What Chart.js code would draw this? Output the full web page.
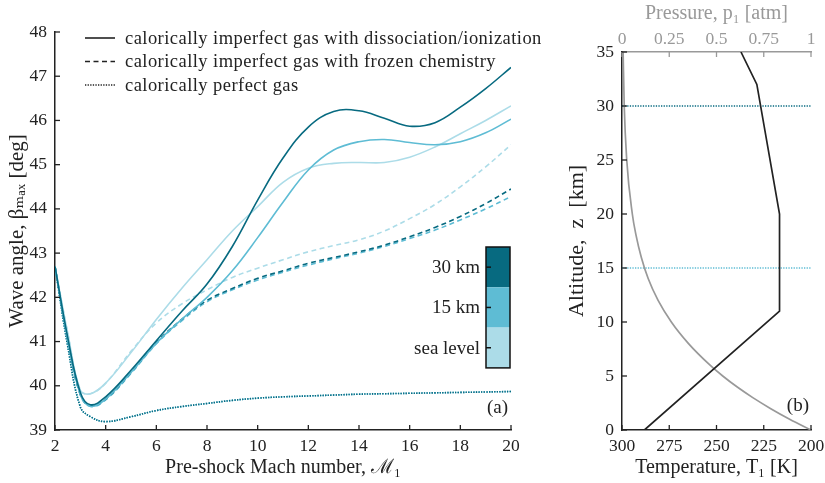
<!DOCTYPE html>
<html>
<head>
<meta charset="utf-8">
<script src="https://cdn.jsdelivr.net/npm/chart.js@4"></script>
<style>
  html, body { margin: 0; padding: 0; background: #fff; }
  #wrap { position: relative; width: 825px; height: 483px; }
  .box { position: absolute; top: 0; height: 483px; }
</style>
</head>
<body>
<div id="wrap">
  <div class="box" style="left:0;width:560px"><canvas id="waveChart" width="560" height="483"></canvas></div>
  <div class="box" style="left:560px;width:265px"><canvas id="atmChart" width="265" height="483"></canvas></div>
</div>
<script>
// ---- panel (a): max wave angle vs Mach number ----
const mach = [2, 2.5, 3, 3.4, 4, 5, 6, 7, 8, 9, 10, 11, 12, 13, 14, 15, 16, 17, 18, 19, 20];

const equil30km = [42.7, 41.1, 39.85, 39.57, 39.75, 40.35, 41.02, 41.68, 42.3, 43.15, 44.2, 45.15, 45.85, 46.2, 46.22, 46.05, 45.87, 45.95, 46.3, 46.72, 47.2];
const equil15km = [42.7, 41.05, 39.8, 39.54, 39.7, 40.3, 40.96, 41.5, 42.0, 42.6, 43.35, 44.15, 44.88, 45.33, 45.52, 45.57, 45.5, 45.45, 45.52, 45.72, 46.03];
const equilSea  = [42.7, 41.2, 39.9, 39.82, 40.06, 40.75, 41.5, 42.2, 42.85, 43.5, 44.05, 44.6, 44.92, 45.03, 45.05, 45.05, 45.17, 45.4, 45.7, 46.0, 46.33];

const frozen30km = [42.7, 41.05, 39.8, 39.55, 39.7, 40.3, 40.98, 41.5, 41.93, 42.2, 42.43, 42.6, 42.77, 42.9, 43.03, 43.18, 43.37, 43.58, 43.83, 44.12, 44.45];
const frozen15km = [42.7, 41.05, 39.8, 39.53, 39.68, 40.28, 40.95, 41.47, 41.9, 42.17, 42.39, 42.57, 42.73, 42.87, 43.0, 43.15, 43.33, 43.52, 43.75, 44.0, 44.28];
const frozenSea  = [42.7, 41.2, 39.9, 39.82, 40.06, 40.78, 41.42, 41.85, 42.17, 42.45, 42.66, 42.85, 43.03, 43.17, 43.3, 43.5, 43.78, 44.1, 44.5, 44.95, 45.45];

const perfectGas = [42.7, 40.9, 39.52, 39.3, 39.19, 39.3, 39.44, 39.53, 39.6, 39.67, 39.72, 39.75, 39.77, 39.79, 39.81, 39.82, 39.83, 39.84, 39.85, 39.86, 39.87];

const keyLabels = ['calorically imperfect gas with dissociation/ionization',
                   'calorically imperfect gas with frozen chemistry',
                   'calorically perfect gas'];
const altitudeLabels = ['30 km', '15 km', 'sea level'];

// ---- panel (b): standard atmosphere ----
const tempAltitude = [0, 11, 20, 32, 35];
const temperature = [288.15, 216.65, 216.65, 228.65, 237.05];
const presAltitude = [0, 1, 2, 3, 4, 5, 6, 8, 10, 12, 14, 16, 18, 20, 25, 30, 35];
const pressure = [1.0, 0.887, 0.785, 0.692, 0.608, 0.533, 0.466, 0.352, 0.261, 0.191, 0.139, 0.102, 0.0747, 0.0546, 0.0251, 0.0118, 0.0059];
const markedAltitudes = [30, 15];

const DARK = '#076a80', MID = '#5ebcd4', LIGHT = '#acdce8';
const INK = '#222', GREY = '#999';
const SERIF = "'Liberation Serif', 'DejaVu Serif', serif";

Chart.defaults.font.family = SERIF;
Chart.defaults.font.size = 17.5;
Chart.defaults.color = INK;

const toPoints = (xs, ys) => xs.map((x, i) => ({ x, y: ys[i] }));

function curve(xs, ys, color, dash, axis) {
  const ds = {
    data: toPoints(xs, ys),
    borderColor: color,
    borderWidth: 1.6,
    borderDash: dash,
    pointRadius: 0,
    tension: 0.4,
    fill: false
  };
  if (axis) ds.xAxisID = axis;
  return ds;
}

// tick marks pointing into the plot
const inwardTicks = {
  id: 'inwardTicks',
  afterDatasetsDraw(chart) {
    const ctx = chart.ctx, a = chart.chartArea, len = 5;
    ctx.save();
    ctx.lineWidth = 1.3;
    for (const s of Object.values(chart.scales)) {
      ctx.strokeStyle = s.options.border.color;
      s.ticks.forEach((t, i) => {
        const p = s.getPixelForTick(i);
        ctx.beginPath();
        if (s.position === 'left') { ctx.moveTo(a.left, p); ctx.lineTo(a.left + len, p); }
        else if (s.position === 'bottom') { ctx.moveTo(p, a.bottom); ctx.lineTo(p, a.bottom - len); }
        else if (s.position === 'top') { ctx.moveTo(p, a.top); ctx.lineTo(p, a.top + len); }
        ctx.stroke();
      });
    }
    ctx.restore();
  }
};

const waveDecor = {
  id: 'waveDecor',
  afterDraw(chart) {
    const ctx = chart.ctx, a = chart.chartArea;
    ctx.save();
    // line-style key
    const dashes = [[], [5, 3.5], [1.3, 1.3]];
    ctx.font = '18.5px ' + SERIF;
    ctx.letterSpacing = '0.45px';
    ctx.textBaseline = 'middle';
    keyLabels.forEach((lab, i) => {
      const y = a.top + 6 + i * 23.5;
      ctx.strokeStyle = INK;
      ctx.lineWidth = 1.6;
      ctx.setLineDash(dashes[i]);
      ctx.beginPath(); ctx.moveTo(a.left + 30, y); ctx.lineTo(a.left + 60, y); ctx.stroke();
      ctx.setLineDash([]);
      ctx.fillStyle = INK;
      ctx.fillText(lab, a.left + 70, y + 1);
    });
    ctx.letterSpacing = '0px';
    // altitude colour bar
    const w = 24, h = 40.3, x0 = a.right - 1 - w, y0 = a.top + 215;
    [DARK, MID, LIGHT].forEach((c, i) => {
      ctx.fillStyle = c;
      ctx.fillRect(x0, y0 + i * h, w, h);
    });
    ctx.strokeStyle = '#111';
    ctx.lineWidth = 1.5;
    ctx.strokeRect(x0, y0, w, 3 * h);
    ctx.textAlign = 'right';
    ctx.font = '19px ' + SERIF;
    altitudeLabels.forEach((lab, i) => {
      const y = y0 + (i + 0.5) * h;
      ctx.beginPath(); ctx.moveTo(x0, y); ctx.lineTo(x0 + 5, y); ctx.stroke();
      ctx.fillStyle = INK;
      ctx.fillText(lab, x0 - 6, y + 1);
    });
    ctx.fillText('(a)', a.right - 3, a.bottom - 22);
    ctx.restore();
  }
};

const atmDecor = {
  id: 'atmDecor',
  afterDraw(chart) {
    const ctx = chart.ctx, a = chart.chartArea;
    ctx.save();
    ctx.font = '19px ' + SERIF;
    ctx.textAlign = 'right';
    ctx.textBaseline = 'middle';
    ctx.fillStyle = INK;
    ctx.fillText('(b)', a.right - 2, a.bottom - 24);
    ctx.restore();
  }
};

function fixSize(w, h) {
  return s => {
    if (w !== null) s.width = w;
    if (h !== null) s.height = h;
    s.paddingLeft = 0; s.paddingRight = 0; s.paddingTop = 0; s.paddingBottom = 0;
  };
}

const axisBase = (color) => ({
  grid: { drawOnChartArea: false, drawTicks: false },
  border: { display: true, color: color, width: 1.5 }
});
const titleFont = { size: 20 };

new Chart(document.getElementById('waveChart'), {
  type: 'line',
  data: {
    datasets: [
      curve(mach, equil30km, DARK, []),
      curve(mach, equil15km, MID, []),
      curve(mach, equilSea, LIGHT, []),
      curve(mach, frozen30km, DARK, [5, 3.5]),
      curve(mach, frozen15km, MID, [5, 3.5]),
      curve(mach, frozenSea, LIGHT, [5, 3.5]),
      curve(mach, perfectGas, DARK, [1.3, 1.3]),
      curve(mach, perfectGas, MID, [1.3, 1.3]),
      curve(mach, perfectGas, LIGHT, [1.3, 1.3])
    ]
  },
  options: {
    responsive: false,
    animation: false,
    layout: { padding: { left: 0, right: 49, top: 32, bottom: 0 } },
    plugins: { legend: { display: false }, tooltip: { enabled: false } },
    scales: {
      x: {
        type: 'linear', position: 'bottom', min: 2, max: 20,
        ...axisBase(INK),
        ticks: { stepSize: 2, padding: 6, color: INK },
        title: { display: true, text: 'Pre-shock Mach number, ℳ₁', color: INK, font: titleFont, padding: { top: 0, bottom: 3 } },
        afterFit: fixSize(null, 53)
      },
      y: {
        type: 'linear', position: 'left', min: 39, max: 48,
        ...axisBase(INK),
        ticks: { stepSize: 1, padding: 8, color: INK },
        title: { display: true, text: 'Wave angle, βₘₐₓ [deg]', color: INK, font: { size: 21 }, padding: { top: 5, bottom: 0 } },
        afterFit: fixSize(55, null)
      }
    }
  },
  plugins: [inwardTicks, waveDecor]
});

const markerLines = markedAltitudes.map((z, i) => ({
  data: [{ x: 300, y: z }, { x: 200, y: z }],
  borderColor: i === 0 ? DARK : MID,
  borderWidth: 1.5,
  borderDash: [1.3, 1.3],
  pointRadius: 0
}));

new Chart(document.getElementById('atmChart'), {
  type: 'line',
  data: {
    datasets: [
      { ...curve(temperature, tempAltitude, INK, []), tension: 0, borderWidth: 1.7 },
      { ...curve(pressure, presAltitude, GREY, [], 'x2'), cubicInterpolationMode: 'monotone', borderWidth: 1.7 },
      ...markerLines
    ]
  },
  options: {
    responsive: false,
    animation: false,
    layout: { padding: { left: 0, right: 14, top: 0, bottom: 0 } },
    plugins: { legend: { display: false }, tooltip: { enabled: false } },
    scales: {
      x: {
        type: 'linear', position: 'bottom', min: 200, max: 300, reverse: true,
        ...axisBase(INK),
        ticks: { stepSize: 25, padding: 6, color: INK },
        title: { display: true, text: 'Temperature, T₁ [K]', color: INK, font: titleFont, padding: { top: 0, bottom: 3 } },
        afterFit: fixSize(null, 53)
      },
      x2: {
        type: 'linear', position: 'top', min: 0, max: 1,
        ...axisBase(GREY),
        ticks: { stepSize: 0.25, padding: 2, color: GREY, callback: v => String(v) },
        title: { display: true, text: 'Pressure, p₁ [atm]', color: GREY, font: titleFont, padding: { top: 2, bottom: 0 } },
        afterFit: fixSize(null, 52)
      },
      y: {
        type: 'linear', position: 'left', min: 0, max: 35,
        ...axisBase(INK),
        ticks: { stepSize: 5, padding: 8, color: INK },
        title: { display: true, text: 'Altitude,  z  [km]', color: INK, font: { size: 22 }, padding: { top: 4, bottom: 0 } },
        afterFit: fixSize(62, null)
      }
    }
  },
  plugins: [inwardTicks, atmDecor]
});
</script>
</body>
</html>
